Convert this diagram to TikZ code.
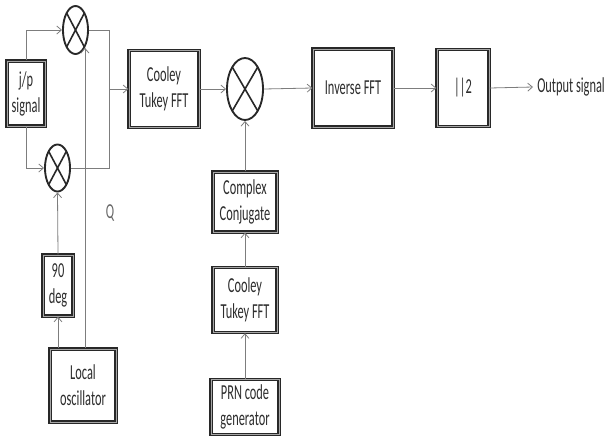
\documentclass[tikz,border=0pt]{standalone}
\usepackage{fontspec}
\setmainfont{Carlito}[FakeStretch=0.58]
\usetikzlibrary{arrows.meta,shapes.geometric}
\definecolor{boxc}{RGB}{40,40,40}
\definecolor{linec}{RGB}{125,125,125}
\definecolor{txtc}{RGB}{45,45,45}

\begin{document}
\begin{tikzpicture}[
  x=0.75pt, y=-0.75pt,
  font=\fontsize{16}{19.5}\selectfont,
  blk/.style={rectangle, draw=boxc, line width=0.95pt, double=black!35,
              double distance=0.55pt, fill=white, align=center,
              inner sep=1pt, text=txtc},
  mix/.style={ellipse, draw=boxc, line width=1.4pt, inner sep=0pt,
              path picture={\draw[boxc, line width=1.2pt]
                (path picture bounding box.north west) -- (path picture bounding box.south east)
                (path picture bounding box.north east) -- (path picture bounding box.south west);}},
  wire/.style={draw=linec, line width=0.6pt},
  sig/.style={wire, -{Straight Barb[length=3.5pt, width=6pt]}},
  lbl/.style={text=txtc, inner sep=1pt},
]
\useasboundingbox (0,0) rectangle (611,436);

% ---------------- left: I/Q mixing ----------------
\node[blk, minimum width=28.5pt, minimum height=48.8pt] (jp) at (26,93.5) {j/p\\signal};
\node[mix, minimum width=18.8pt, minimum height=36pt] (mixI) at (75.5,30) {};
\node[mix, minimum width=18.8pt, minimum height=35.3pt] (mixQ) at (57.5,168) {};
\node[blk, minimum width=22.5pt, minimum height=45.8pt] (deg) at (58,285.5) {90\\deg};
\node[blk, minimum width=49.5pt, minimum height=54.8pt] (lo) at (83,385.5) {Local\\oscillator};
\node[lbl, text=black!60] (q) at (110,213) {Q};
\coordinate (jn) at (109,89);

\draw[sig] (jp.north) |- (mixI.west);
\draw[sig] (jp.south) |- (mixQ.west);
\draw[sig] (lo.north -| mixI.-62) -- (mixI.-62);
\draw[sig] (lo.north -| deg) -- (deg.south);
\draw[sig] (deg.north) -- (mixQ.south);
\draw[wire] (mixI.east) -| (jn);
\draw[wire] (mixQ.east) -| (jn);

% ---------------- main path ----------------
\node[blk, minimum width=52.5pt, minimum height=57.8pt] (fft1) at (164,89) {Cooley\\Tukey FFT};
\node[mix, minimum width=27pt, minimum height=46.5pt] (mixC) at (245,89) {};
\node[blk, minimum width=60pt, minimum height=58.5pt] (ifft) at (353,88) {Inverse FFT};
\node[blk, minimum width=39pt, minimum height=57.8pt] (sq) at (463,88) {||2};
\node[lbl, anchor=west, inner sep=3pt] (out) at (533,87) {Output signal};

\draw[sig] (jn) -- (fft1.west);
\draw[sig] (fft1.east) -- (mixC.west);
\draw[sig] (mixC.east) -- (ifft.west);
\draw[sig] (ifft.east) -- (sq.west);
\draw[sig] (sq.east) -- (out.west);

% ---------------- reference code branch ----------------
\node[blk, minimum width=48pt, minimum height=45pt] (cc) at (245,202) {Complex\\Conjugate};
\node[blk, minimum width=48pt, minimum height=48.8pt] (fft2) at (245,300) {Cooley\\Tukey FFT};
\node[blk, minimum width=51pt, minimum height=41pt] (prn) at (245,407) {PRN code\\generator};

\draw[sig] (prn.north) -- (fft2.south);
\draw[sig] (fft2.north) -- (cc.south);
\draw[sig] (cc.north) -- (mixC.south);

\end{tikzpicture}
\end{document}
